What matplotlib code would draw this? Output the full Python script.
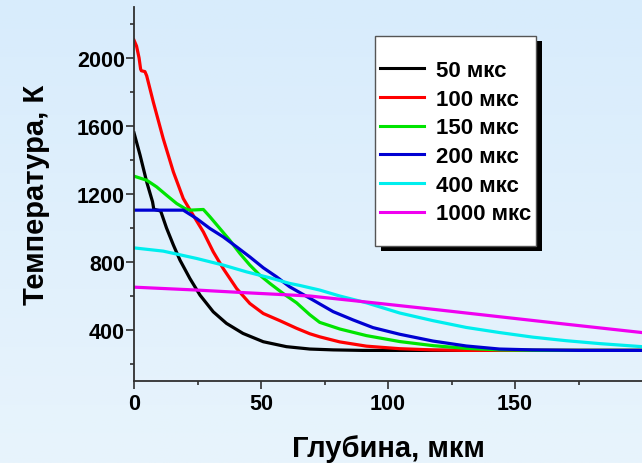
import numpy as np
import matplotlib
matplotlib.use("Agg")
import matplotlib.pyplot as plt
from matplotlib.patches import Rectangle

plt.rcParams["font.family"] = ["Liberation Sans", "DejaVu Sans"]
plt.rcParams["font.weight"] = "bold"

labels = ["50 мкс", "100 мкс", "150 мкс", "200 мкс", "400 мкс", "1000 мкс"]
colors = ["#000000", "#ff0000", "#00e400", "#0000d2", "#00eeee", "#f000f0"]

# depth (мкм) and temperature (K)
x_50 = [0, 2.4, 5, 7.3, 7.8, 10.5, 12.8, 15.5, 18.1, 22, 26, 31.2, 36.4, 42.9, 50.9, 60, 69.2, 78.4, 90, 200]
t_50 = [1560, 1428, 1271, 1154, 1110, 1100, 1000, 900, 811, 703, 605, 507, 439, 380, 331, 302, 288, 283, 280, 280]

x_100 = [0, 1, 2, 2.6, 2.9, 4.3, 5, 7.6, 11.5, 15.5, 19.4, 23.3, 27.3, 31.2, 35.1, 40.4, 45.6, 50.9,
         57.4, 64, 69.2, 73.1, 81, 91.5, 104.6, 117.6, 130, 200]
t_100 = [2105, 2070, 2000, 1935, 1925, 1920, 1895, 1741, 1526, 1330, 1173, 1075, 977, 860, 762, 644, 556, 497,
         455, 410, 378, 360, 330, 305, 290, 283, 280, 280]

x_150 = [0, 5, 8.9, 12.8, 16.8, 20, 22, 27.3, 29.9, 33.8, 37.7, 41.7, 45.6, 49.5, 53.5, 58.7, 64, 69.2,
         73.1, 81, 91.5, 104.6, 117.7, 130.8, 143.9, 160, 200]
t_150 = [1305, 1281, 1242, 1193, 1144, 1115, 1105, 1109, 1066, 997, 928, 850, 782, 723, 674, 615, 560, 490,
         445, 406, 367, 332, 308, 292, 283, 280, 280]

x_200 = [0, 19.4, 24.6, 29.9, 35.1, 40.4, 45.6, 50.9, 56.1, 61.3, 65.3, 70.5, 78.4, 86.3, 94.1, 104.6,
         117.7, 130.8, 143.9, 157, 175, 200]
t_200 = [1105, 1105, 1056, 997, 948, 889, 830, 766, 713, 654, 620, 576, 508, 459, 414, 375,
         335, 306, 288, 283, 280, 280]

x_400 = [0, 11.5, 24.6, 35.1, 44.3, 53.5, 61.3, 65.3, 73.1, 81, 91.5, 104.6, 117.7, 130.8, 143.9, 157,
         170.2, 183.3, 200]
t_400 = [883, 864, 821, 782, 742, 707, 674, 662, 635, 600, 560, 500, 455, 415, 385, 358,
         337, 320, 302]

x_1000 = [0, 24.6, 44.3, 69.2, 90, 117.7, 143.9, 170.2, 200]
t_1000 = [652, 635, 619, 600, 567, 522, 478, 434, 385]

x_ticks = [0, 50, 100, 150]
x_minor = [25, 75, 125, 175]
y_ticks = [400, 800, 1200, 1600, 2000]
y_minor = [200, 600, 1000, 1400, 1800, 2200]

series = [(x_50, t_50), (x_100, t_100), (x_150, t_150), (x_200, t_200), (x_400, t_400), (x_1000, t_1000)]

W, H = 642, 464
fig = plt.figure(figsize=(W / 100, H / 100), dpi=100)

# light blue gradient background
bg = fig.add_axes([0, 0, 1, 1], zorder=-10)
top = np.array([216, 236, 252]) / 255
bot = np.array([232, 244, 252]) / 255
grad = np.linspace(0, 1, 256)[:, None, None] * (bot - top) + top
bg.imshow(np.repeat(grad, 2, axis=1), aspect="auto", extent=[0, 1, 0, 1], origin="upper")
bg.axis("off")

ax = fig.add_axes([134 / W, 82 / H, 508 / W, 374 / H])
ax.set_facecolor("none")

for (xs, ts), c, lab in zip(series, colors, labels):
    ax.plot(xs, ts, color=c, lw=2.3, label=lab, solid_joinstyle="round")

ax.set_xlim(0, 200)
ax.set_ylim(100, 2300)
ax.set_xticks(x_ticks)
ax.set_xticks(x_minor, minor=True)
ax.set_yticks(y_ticks)
ax.set_yticks(y_minor, minor=True)

for s in ["top", "right"]:
    ax.spines[s].set_visible(False)
for s in ["left", "bottom"]:
    ax.spines[s].set_color("#303030")
    ax.spines[s].set_linewidth(1.3)

ax.tick_params(which="major", direction="out", length=5.5, width=1.2, color="#303030", labelsize=15.5)
ax.tick_params(which="minor", direction="out", length=3, width=1.2, color="#303030")
ax.tick_params(axis="y", which="major", pad=1)
ax.tick_params(axis="x", which="major", pad=3)

ax.set_xlabel("Глубина, мкм", fontsize=21, fontweight="bold", va="baseline")
ax.xaxis.set_label_coords(0.5, -75 / 374)
ax.set_ylabel("Температура, К", fontsize=21, fontweight="bold", va="center")
ax.yaxis.set_label_coords(-98 / 508, 0.5)

# legend box with solid black shadow
ax.add_patch(Rectangle((381 / W, 1 - 252 / H), 161 / W, 210 / H, transform=fig.transFigure,
                       facecolor="black", edgecolor="none", zorder=5, clip_on=False))
ax.add_patch(Rectangle((375 / W, 1 - 247 / H), 161 / W, 210 / H, transform=fig.transFigure,
                       facecolor="white", edgecolor="#555555", lw=1, zorder=6, clip_on=False))
leg = ax.legend(loc="upper left", bbox_to_anchor=(380 / W, 1 - 61 / H), bbox_transform=fig.transFigure,
                frameon=False, fontsize=16, handlelength=2.0, handletextpad=0.5, labelspacing=0.345,
                borderaxespad=0, borderpad=0)
leg.set_zorder(7)
for h in leg.get_lines():
    h.set_linewidth(2.2)

fig.savefig("out.png", dpi=100)
